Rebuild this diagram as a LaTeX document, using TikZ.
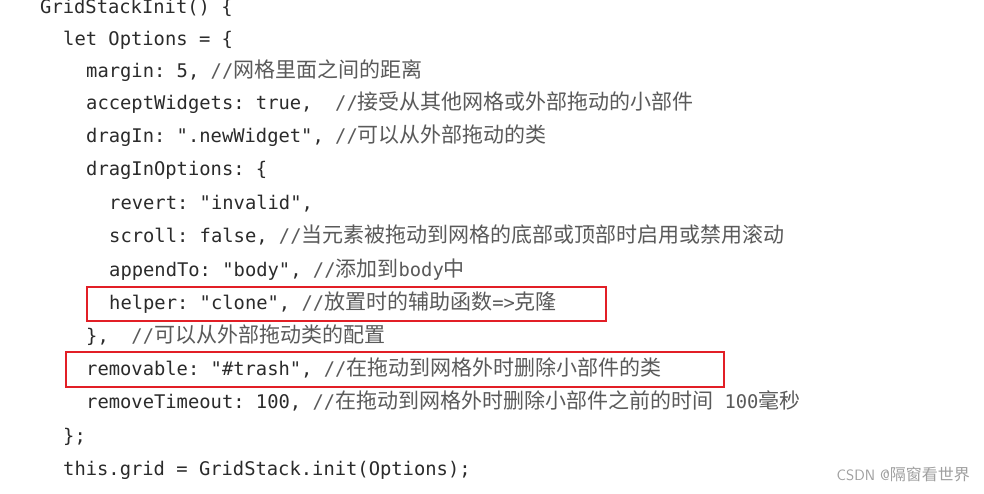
\documentclass[tikz,border=0pt]{standalone}
\usepackage{fontspec}
\setmonofont{DejaVu Sans Mono}
\newfontfamily\cjk{Noto Sans CJK SC}
\definecolor{codec}{HTML}{2B2B2B}
\definecolor{cmtc}{HTML}{5A5A5A}
\definecolor{boxred}{HTML}{E21F26}
\newcommand{\cm}[1]{{\color{cmtc}#1}}
\newcommand{\zh}[1]{{\cjk\fontsize{21}{21}\selectfont #1}}
\begin{document}
\begin{tikzpicture}[x=1pt,y=-1pt,
  codeline/.style={anchor=base west,inner sep=0pt,text=codec,font=\ttfamily\fontsize{18.8}{19}\selectfont},
  hl/.style={draw=boxred,line width=2.5pt}]
\useasboundingbox (0,0) rectangle (984,494);
\fill[white] (0,0) rectangle (984,494);
\node[codeline] (l0) at (40,14) {GridStackInit() \{};
\node[codeline] (l1) at (63,46) {let Options = \{};
\node[codeline] (l2) at (86,78) {margin: 5, \cm{//\zh{网格里面之间的距离}}};
\node[codeline] (l3) at (86,110) {acceptWidgets: true,\ \ \cm{//\zh{接受从其他网格或外部拖动的小部件}}};
\node[codeline] (l4) at (86,143) {dragIn: ".newWidget", \cm{//\zh{可以从外部拖动的类}}};
\node[codeline] (l5) at (86,176) {dragInOptions: \{};
\node[codeline] (l6) at (109,210) {revert: "invalid",};
\node[codeline] (l7) at (109,243) {scroll: false, \cm{//\zh{当元素被拖动到网格的底部或顶部时启用或禁用滚动}}};
\node[codeline] (l8) at (109,276) {appendTo: "body", \cm{//\zh{添加到}body\zh{中}}};
\node[codeline] (l9) at (109,309) {helper: "clone", \cm{//\zh{放置时的辅助函数}=>\zh{克隆}}};
\node[codeline] (l10) at (86,342) {\},\ \ \cm{//\zh{可以从外部拖动类的配置}}};
\node[codeline] (l11) at (86,375) {removable: "\#trash", \cm{//\zh{在拖动到网格外时删除小部件的类}}};
\node[codeline] (l12) at (86,408) {removeTimeout: 100, \cm{//\zh{在拖动到网格外时删除小部件之前的时间} 100\zh{毫秒}}};
\node[codeline] (l13) at (63,442) {\};};
\node[codeline] (l14) at (63,475) {this.grid = GridStack.init(Options);};
\draw[hl] (87,287) rectangle (606,321);
\draw[hl] (66,352) rectangle (724,387);
\node[anchor=base east,inner sep=0pt,text=gray!75,font=\sffamily\fontsize{15}{15}\selectfont] (wm) at (970,480) {CSDN @\zh{\fontsize{16}{16}\selectfont 隔窗看世界}};
\end{tikzpicture}
\end{document}
